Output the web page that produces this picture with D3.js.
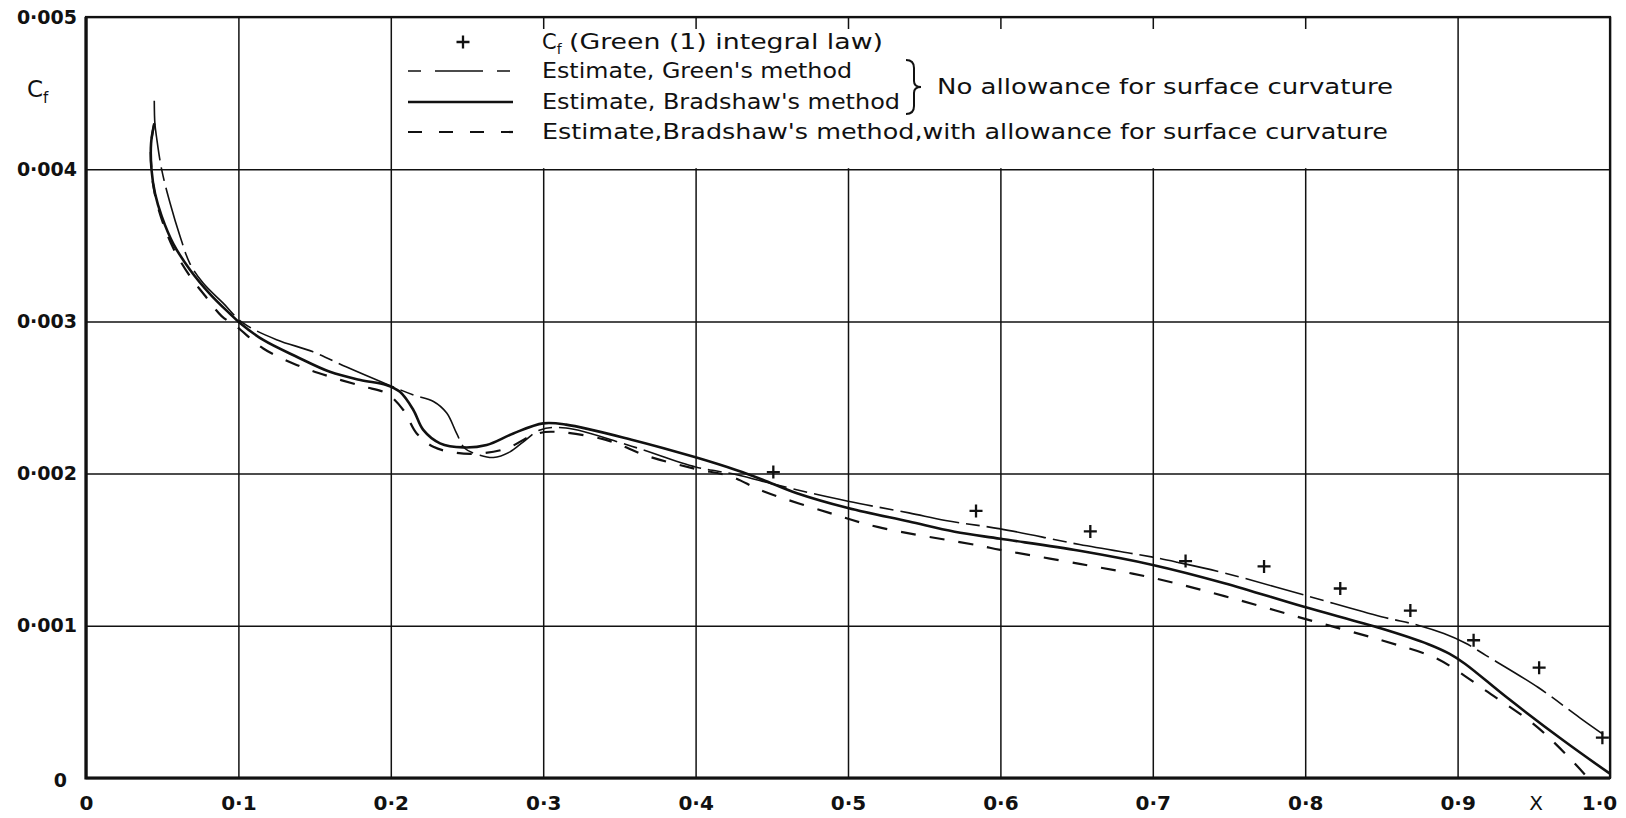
<!DOCTYPE html>
<html>
<head>
<meta charset="utf-8">
<script src="https://cdn.jsdelivr.net/npm/d3@7"></script>
<style>
  html, body { margin: 0; padding: 0; background: #fff; }
  svg { display: block; }
  text { font-family: "DejaVu Sans", sans-serif; fill: #111; }
</style>
</head>
<body>
<svg id="chart" width="1626" height="818"></svg>
<script>
// ---------------- data ----------------
const xTickValues = [0, 0.1, 0.2, 0.3, 0.4, 0.5, 0.6, 0.7, 0.8, 0.9, 1.0];
const xTickLabels = ["0", "0·1", "0·2", "0·3", "0·4", "0·5", "0·6", "0·7", "0·8", "0·9", "1·0"];
const yTickValues = [0, 0.001, 0.002, 0.003, 0.004, 0.005];
const yTickLabels = ["0", "0·001", "0·002", "0·003", "0·004", "0·005"];

// Cf (Green (1) integral law) — plotted crosses
const integralLawPoints = [
  [0.451, 0.00201], [0.584, 0.001755], [0.659, 0.00162], [0.7215, 0.001425],
  [0.773, 0.00139], [0.823, 0.001245], [0.869, 0.0011], [0.9105, 0.000905],
  [0.9535, 0.000725], [0.995, 0.000265]
];

// Estimate, Green's method (long-short dash)
const greenMethod = [
  [0.0448, 0.00445], [0.0452, 0.00430], [0.0463, 0.00421], [0.0497, 0.003995],
  [0.0551, 0.00378], [0.0617, 0.00356], [0.0682, 0.00338], [0.077, 0.00325],
  [0.090, 0.00312], [0.103, 0.00299], [0.125, 0.00288], [0.149, 0.00280],
  [0.171, 0.00270], [0.197, 0.002589], [0.215, 0.002516], [0.228, 0.002474],
  [0.2367, 0.002398], [0.2432, 0.002264], [0.2487, 0.002165], [0.2585, 0.002121],
  [0.2673, 0.002106], [0.2782, 0.002143], [0.287, 0.002209], [0.298, 0.002287],
  [0.315, 0.00230], [0.358, 0.00218], [0.400, 0.002044], [0.427, 0.001993],
  [0.455, 0.001921], [0.500, 0.001818], [0.540, 0.001742], [0.564, 0.001692],
  [0.600, 0.001637], [0.652, 0.001534], [0.700, 0.001451], [0.716, 0.001418],
  [0.747, 0.001347], [0.799, 0.001203], [0.850, 0.00106], [0.874, 0.001004],
  [0.891, 0.000949], [0.905, 0.000887], [0.9185, 0.000806], [0.9527, 0.000596],
  [0.980, 0.000397], [0.9955, 0.000287]
];

// Estimate, Bradshaw's method (solid)
const bradshawMethod = [
  [0.0448, 0.00430], [0.0427, 0.00417], [0.0430, 0.003995], [0.0453, 0.00384],
  [0.0497, 0.00369], [0.0573, 0.00351], [0.0682, 0.00334], [0.0814, 0.00318],
  [0.0945, 0.00305], [0.101, 0.00299], [0.1163, 0.002878], [0.1382, 0.002768],
  [0.160, 0.002669], [0.180, 0.002615], [0.197, 0.002582], [0.206, 0.002537],
  [0.2148, 0.002418], [0.2213, 0.002287], [0.2323, 0.002199], [0.2476, 0.002172],
  [0.2629, 0.002188], [0.2804, 0.002264], [0.300, 0.00233], [0.315, 0.002322],
  [0.358, 0.002223], [0.400, 0.002107], [0.427, 0.002022], [0.444, 0.00196],
  [0.466, 0.001873], [0.500, 0.001774], [0.540, 0.001685], [0.570, 0.001618],
  [0.600, 0.001572], [0.652, 0.001493], [0.700, 0.001400], [0.747, 0.00128],
  [0.7986, 0.001126], [0.850, 0.000982], [0.8808, 0.000879],
  [0.8945, 0.000817], [0.9048, 0.000751], [0.9322, 0.00053], [0.9699, 0.000243],
  [0.9997, 0.00003]
];

// Estimate, Bradshaw's method, with allowance for surface curvature (short dash)
const bradshawCurvature = [
  [0.0448, 0.00430], [0.0427, 0.00417], [0.0430, 0.00399], [0.0453, 0.00383],
  [0.0497, 0.00367], [0.0573, 0.00348], [0.068, 0.00330], [0.078, 0.00317],
  [0.089, 0.003035], [0.0988, 0.002966], [0.1163, 0.002822], [0.1382, 0.002714],
  [0.160, 0.002637], [0.182, 0.002572], [0.197, 0.002528], [0.2082, 0.002418],
  [0.217, 0.002264], [0.2279, 0.002176], [0.2432, 0.002136], [0.2585, 0.002132],
  [0.276, 0.002165], [0.2935, 0.002254], [0.305, 0.002275], [0.3406, 0.002223],
  [0.3688, 0.002114], [0.400, 0.002031], [0.4228, 0.001982], [0.4444, 0.001884],
  [0.4877, 0.001742], [0.520, 0.001648], [0.5862, 0.001527], [0.600, 0.001499],
  [0.652, 0.001407], [0.700, 0.001315], [0.747, 0.001195], [0.7986, 0.001049],
  [0.850, 0.000905], [0.8842, 0.000795], [0.8979, 0.000717], [0.9185, 0.000574],
  [0.9527, 0.000331], [0.9836, 0.000022], [0.987, -0.00002]
];

const legendRows = [
  { label: "(Green (1) integral law)", kind: "cross" },
  { label: "Estimate, Green's method", kind: "green" },
  { label: "Estimate, Bradshaw's method", kind: "solid" },
  { label: "Estimate,Bradshaw's method,with allowance for surface curvature", kind: "short" }
];
const braceNote = "No allowance for surface curvature";

// ---------------- layout ----------------
const svg = d3.select("#chart");
const M = { left: 86, right: 1610, top: 17, bottom: 778 };
const x = d3.scaleLinear().domain([0, 1]).range([M.left, M.right]);
const y = d3.scaleLinear().domain([0, 0.005]).range([M.bottom, M.top]);

const styles = {
  green: { width: 1.6, dash: "60 7 14 7" },
  solid: { width: 2.6, dash: null },
  short: { width: 2.2, dash: "15 14" }
};

// grid (vertical)
const gx = svg.append("g")
  .attr("transform", `translate(0,${M.bottom})`)
  .call(d3.axisBottom(x).tickValues(xTickValues)
    .tickSize(-(M.bottom - M.top)).tickPadding(18)
    .tickFormat((d, i) => xTickLabels[i]));
gx.select(".domain").remove();
gx.selectAll(".tick line").attr("stroke", "#111").attr("stroke-width", 1.5);
gx.selectAll(".tick text")
  .attr("font-size", 20).attr("font-weight", "bold")
  .attr("font-family", "DejaVu Sans").attr("fill", "#111");
gx.selectAll(".tick text").filter((d, i) => i === xTickValues.length - 1).attr("dx", -11);

// grid (horizontal)
const gy = svg.append("g")
  .attr("transform", `translate(${M.left},0)`)
  .call(d3.axisLeft(y).tickValues(yTickValues)
    .tickSize(-(M.right - M.left)).tickPadding(9)
    .tickFormat((d, i) => yTickLabels[i]));
gy.select(".domain").remove();
gy.selectAll(".tick line").attr("stroke", "#111").attr("stroke-width", 1.5);
gy.selectAll(".tick text")
  .attr("font-size", 19).attr("font-weight", "bold")
  .attr("font-family", "DejaVu Sans").attr("fill", "#111");
gy.selectAll(".tick text").filter(d => d === 0).attr("dx", -10).attr("dy", "0.45em");

// legend white box hides grid lines underneath it
svg.append("rect")
  .attr("x", 399).attr("y", 29)
  .attr("width", 1446 - 399).attr("height", y(0.004) - 29 - 1)
  .attr("fill", "#fff");

// frame
svg.append("rect")
  .attr("x", M.left).attr("y", M.top)
  .attr("width", M.right - M.left).attr("height", M.bottom - M.top)
  .attr("fill", "none").attr("stroke", "#111").attr("stroke-width", 2.2);
svg.append("path")
  .attr("d", `M${M.left},${M.top}V${M.bottom}H${M.right}`)
  .attr("fill", "none").attr("stroke", "#111").attr("stroke-width", 3.2);

// axis titles
const cfTitle = svg.append("text").attr("x", 27).attr("y", 97).attr("font-size", 23);
cfTitle.append("tspan").text("C");
cfTitle.append("tspan").attr("font-size", 15).attr("dy", 6).text("f");

svg.append("text").attr("x", 1536).attr("y", 810).attr("text-anchor", "middle")
  .attr("font-size", 20).text("X");

// curves
const line = d3.line().x(d => x(d[0])).y(d => y(d[1])).curve(d3.curveCatmullRom.alpha(0.5));
function drawCurve(data, st) {
  svg.append("path").datum(data)
    .attr("d", line)
    .attr("fill", "none").attr("stroke", "#111")
    .attr("stroke-width", st.width)
    .attr("stroke-linecap", "butt")
    .attr("stroke-dasharray", st.dash);
}
drawCurve(greenMethod, styles.green);
drawCurve(bradshawMethod, styles.solid);
drawCurve(bradshawCurvature, styles.short);

// crosses
const crossPath = "M-6.5,0H6.5M0,-6.5V6.5";
svg.append("g").selectAll("path").data(integralLawPoints).join("path")
  .attr("transform", d => `translate(${x(d[0])},${y(d[1])})`)
  .attr("d", crossPath).attr("stroke", "#111").attr("stroke-width", 2.3);

// legend
const rowY = [42, 71, 102, 132];
const textStart = 542;
const textEnds = [883, 852, 900, 1388];
legendRows.forEach((r, i) => {
  const cy = rowY[i];
  if (r.kind === "cross") {
    svg.append("path").attr("transform", `translate(463,${cy})`)
      .attr("d", crossPath).attr("stroke", "#111").attr("stroke-width", 2.3);
    const t = svg.append("text").attr("x", textStart).attr("y", cy + 7).attr("font-size", 21);
    t.append("tspan").text("C");
    t.append("tspan").attr("font-size", 14).attr("dy", 5).text("f");
    svg.append("text").attr("x", 569).attr("y", cy + 7).attr("font-size", 21)
      .attr("textLength", textEnds[i] - 569).attr("lengthAdjust", "spacingAndGlyphs")
      .text(r.label);
  } else {
    const st = styles[r.kind];
    svg.append("line").attr("x1", 408).attr("x2", 513).attr("y1", cy).attr("y2", cy)
      .attr("stroke", "#111").attr("stroke-width", st.width)
      .attr("stroke-dasharray", r.kind === "green" ? "13 14 48 14 13" : (r.kind === "short" ? "14 17" : null));
    svg.append("text").attr("x", textStart).attr("y", cy + 7).attr("font-size", 21)
      .attr("textLength", textEnds[i] - textStart).attr("lengthAdjust", "spacingAndGlyphs")
      .text(r.label);
  }
});

// brace and note
const bx = 906, by0 = 60, by1 = 114, bm = (by0 + by1) / 2;
svg.append("path")
  .attr("d", `M${bx},${by0} Q${bx + 8},${by0} ${bx + 8},${by0 + 8} L${bx + 8},${bm - 6} Q${bx + 8},${bm} ${bx + 15},${bm} Q${bx + 8},${bm} ${bx + 8},${bm + 6} L${bx + 8},${by1 - 8} Q${bx + 8},${by1} ${bx},${by1}`)
  .attr("fill", "none").attr("stroke", "#111").attr("stroke-width", 2);
svg.append("text").attr("x", 937).attr("y", 94).attr("font-size", 21)
  .attr("textLength", 1393 - 937).attr("lengthAdjust", "spacingAndGlyphs")
  .text(braceNote);
</script>
</body>
</html>
